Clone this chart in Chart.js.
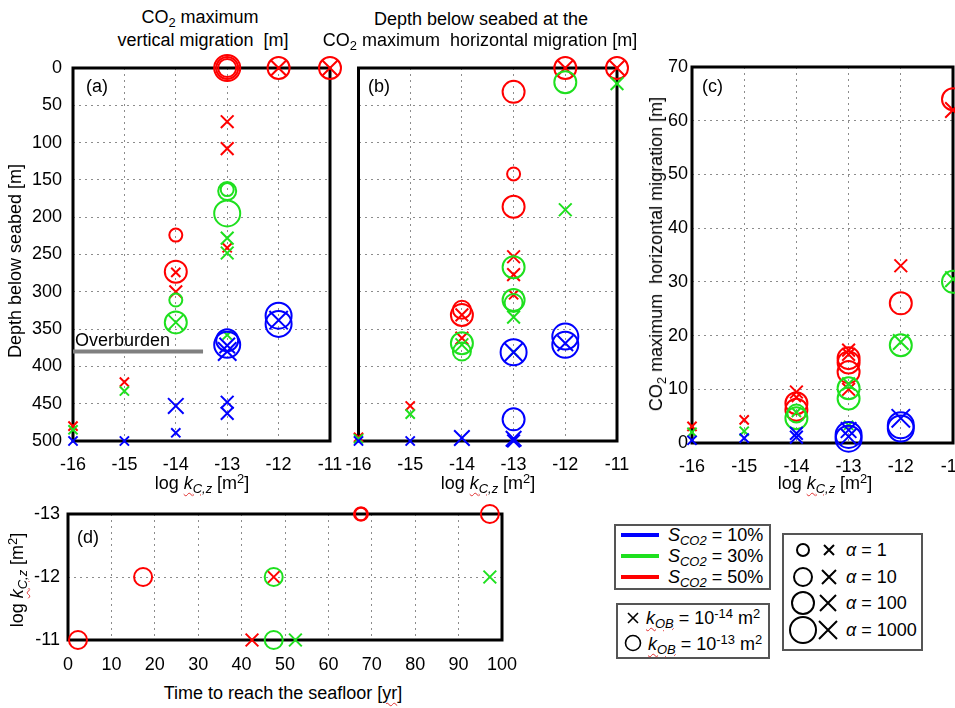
<!DOCTYPE html>
<html>
<head>
<meta charset="utf-8">
<script src="https://cdn.jsdelivr.net/npm/chart.js@4.4.0/dist/chart.umd.min.js"></script>
<style>
body { margin: 0; background: #fff; }
#fig { position: relative; width: 955px; height: 708px; overflow: hidden; font-family: "Liberation Sans", Arial, sans-serif; color: #000; }
canvas { position: absolute; }
.t { position: absolute; font-size: 18px; line-height: 1; white-space: nowrap; }
.c { transform: translateX(-50%); }
.r { transform: translate(-50%, -50%) rotate(-90deg); }
sub { font-size: 0.72em; vertical-align: -0.3em; line-height: 0; }
sup { font-size: 0.72em; vertical-align: 0.5em; line-height: 0; }
.sq { text-decoration: underline wavy #e03030; text-decoration-thickness: 1px; text-underline-offset: 3px; }
.box { position: absolute; border: 2px solid #555; background: #fff; box-sizing: border-box; }
.box svg { position: absolute; left: 0; top: 0; }
.sw { position: absolute; height: 4px; width: 38px; left: 5px; }
</style>
</head>
<body>
<div id="fig">
  <canvas id="ca" width="345" height="421" style="left:0;top:50px"></canvas>
  <canvas id="cb" width="300" height="421" style="left:340px;top:50px"></canvas>
  <canvas id="cc" width="315" height="423" style="left:640px;top:50px"></canvas>
  <canvas id="cd" width="530" height="175" style="left:0;top:500px"></canvas>

  <div class="t c" style="left:200px;top:8px">CO<sub>2</sub> maximum</div>
  <div class="t c" style="left:203px;top:31px">vertical migration&nbsp; [m]</div>
  <div class="t c" style="left:481px;top:10px">Depth below seabed at the</div>
  <div class="t c" style="left:480px;top:31px">CO<sub>2</sub> maximum&nbsp; horizontal migration [m]</div>

  <div class="t r" style="left:15px;top:261px">Depth below seabed [m]</div>
  <div class="t r" style="left:656px;top:254px">CO<sub>2</sub> maximum&nbsp; horizontal migration [m]</div>
  <div class="t r" style="left:17px;top:580px">log <i class="sq">k<sub>C,z</sub></i> [m<sup>2</sup>]</div>

  <div class="t c" style="left:202px;top:474px">log <i class="sq">k<sub>C,z</sub></i> [m<sup>2</sup>]</div>
  <div class="t c" style="left:488px;top:474px">log <i class="sq">k<sub>C,z</sub></i> [m<sup>2</sup>]</div>
  <div class="t c" style="left:825px;top:474px">log <i class="sq">k<sub>C,z</sub></i> [m<sup>2</sup>]</div>
  <div class="t c" style="left:283px;top:684px">Time to reach the seafloor [<span class="sq">yr</span>]</div>

  <div class="t" style="left:86px;top:77px">(a)</div>
  <div class="t" style="left:368px;top:77px">(b)</div>
  <div class="t" style="left:702px;top:77px">(c)</div>
  <div class="t" style="left:77px;top:528px">(d)</div>
  <div class="t" style="left:75px;top:331px">Overburden</div>

  <div class="box" style="left:614px;top:524px;width:157px;height:66px">
    <div class="sw" style="top:7px;background:#0000ff"></div>
    <div class="sw" style="top:28px;background:#1ee01e"></div>
    <div class="sw" style="top:49px;background:#ff0000"></div>
    <div class="t" style="left:52px;top:0px"><i>S<sub>CO2</sub></i> = 10%</div>
    <div class="t" style="left:52px;top:21px"><i>S<sub>CO2</sub></i> = 30%</div>
    <div class="t" style="left:52px;top:42px"><i>S<sub>CO2</sub></i> = 50%</div>
  </div>

  <div class="box" style="left:616px;top:603px;width:154px;height:56px">
    <svg width="30" height="52">
      <path d="M10 8 L20 18 M20 8 L10 18" stroke="#000" stroke-width="1.6" fill="none"/>
      <circle cx="15" cy="38" r="7.5" stroke="#000" stroke-width="1.6" fill="none"/>
    </svg>
    <div class="t" style="left:28px;top:4px"><i class="sq">k<sub>OB</sub></i> = 10<sup>-14</sup> m<sup>2</sup></div>
    <div class="t" style="left:30px;top:30px"><i class="sq">k<sub>OB</sub></i> = 10<sup>-13</sup> m<sup>2</sup></div>
  </div>

  <div class="box" style="left:782px;top:533px;width:141px;height:118px">
    <svg width="62" height="114">
      <g stroke="#000" stroke-width="2" fill="none">
        <circle cx="19" cy="15" r="6"/>
        <path d="M40 10 L50 20 M50 10 L40 20"/>
        <circle cx="19" cy="42" r="9"/>
        <path d="M38 35 L52 49 M52 35 L38 49"/>
        <circle cx="19" cy="68" r="11"/>
        <path d="M36 60 L52 76 M52 60 L36 76"/>
        <circle cx="19" cy="95" r="13"/>
        <path d="M35 86 L53 104 M53 86 L35 104"/>
      </g>
    </svg>
    <div class="t" style="left:62px;top:6px"><i>α</i> = 1</div>
    <div class="t" style="left:62px;top:33px"><i>α</i> = 10</div>
    <div class="t" style="left:62px;top:59px"><i>α</i> = 100</div>
    <div class="t" style="left:62px;top:86px"><i>α</i> = 1000</div>
  </div>
</div>

<script>
"use strict";

// points are [log kCz, value, alpha]; circles: kOB = 1e-13, crosses: kOB = 1e-14
// (a) depth of max vertical migration [m]
const aBlueO  = [[-13, 365, 100], [-13, 371, 1000], [-12, 332, 1000], [-12, 343, 1000]];
const aBlueX  = [[-16, 500, 1], [-15, 500, 1], [-14, 453, 100], [-14, 489, 1], [-13, 448, 10], [-13, 463, 10],
                 [-13, 372, 100], [-13, 380, 1000], [-12, 338, 1000]];
const aGreenO = [[-14, 311, 1], [-14, 341, 100], [-13, 163, 1], [-13, 165, 10], [-13, 195, 1000]];
const aGreenX = [[-16, 485, 1], [-15, 433, 1], [-14, 341, 100], [-13, 228, 10], [-13, 248, 10], [-13, 358, 1]];
const aRedO   = [[-14, 224, 1], [-14, 273, 100], [-13, 0, 10], [-13, 0, 100], [-13, 0, 1000], [-12, 0, 100], [-11, 0, 100]];
const aRedX   = [[-16, 480, 1], [-15, 421, 1], [-14, 274, 1], [-14, 300, 10], [-13, 72, 10], [-13, 108, 10],
                 [-13, 241, 1], [-12, 0, 100], [-11, 0, 100]];
const overburdenDepth = 380;
const overburdenK = [-16, -13.47];

// (b) depth at max horizontal migration [m]
const bBlueO  = [[-13, 381, 1000], [-13, 471, 100], [-12, 360, 1000], [-12, 371, 1000]];
const bBlueX  = [[-16, 500, 1], [-15, 500, 1], [-14, 496, 100], [-13, 497, 100], [-13, 500, 10], [-13, 381, 1000], [-12, 369, 100]];
const bGreenO = [[-14, 369, 100], [-14, 380, 10], [-13, 267, 100], [-13, 311, 100], [-13, 315, 10], [-12, 19, 100]];
const bGreenX = [[-16, 497, 1], [-15, 464, 1], [-14, 371, 10], [-13, 334, 10], [-13, 381, 1], [-12, 190, 10], [-11, 21, 10]];
const bRedO   = [[-14, 324, 10], [-14, 331, 100], [-13, 32, 100], [-13, 142, 1], [-13, 186, 100], [-12, 0, 100], [-11, 0, 100]];
const bRedX   = [[-16, 495, 1], [-15, 453, 1], [-14, 331, 10], [-14, 362, 10], [-13, 253, 10], [-13, 277, 10],
                 [-13, 304, 1], [-12, 0, 100], [-11, 0, 100]];

// (c) max horizontal migration [m]
const cBlueO  = [[-13, 1.5, 1000], [-13, 0.8, 1000], [-12, 3.3, 1000], [-12, 2.7, 1000]];
const cBlueX  = [[-16, 0.5, 1], [-15, 0.9, 1], [-14, 1.8, 10], [-14, 1.1, 10], [-13, 2.4, 100], [-13, 1.2, 100], [-12, 4.6, 1000]];
const cGreenO = [[-14, 4.6, 100], [-14, 5.5, 10], [-13, 10.2, 100], [-13, 8.3, 100], [-12, 18.2, 100], [-11, 30, 100]];
const cGreenX = [[-16, 2, 1], [-15, 2.2, 1], [-14, 5.7, 1], [-13, 11, 10], [-13, 3.3, 1], [-12, 18.8, 100], [-11, 30.5, 100]];
const cRedO   = [[-14, 7.4, 100], [-14, 6.2, 100], [-13, 15.8, 100], [-13, 15, 100], [-13, 13.2, 100], [-12, 26, 100], [-11, 64, 100]];
const cRedX   = [[-16, 3.1, 1], [-15, 4.3, 1], [-14, 9.5, 10], [-14, 8.5, 1], [-13, 17.3, 10], [-13, 16.5, 10],
                 [-13, 10, 10], [-12, 33, 10], [-11, 62, 100]];

// (d) points are [time to seafloor (yr), log kCz, alpha]
const dRedO   = [[2.3, -11, 10], [17.3, -12, 10], [67.4, -13, 1], [67.6, -13, 1], [97.2, -13, 10]];
const dRedX   = [[42.4, -11, 10], [47.4, -12, 10]];
const dGreenO = [[47.4, -12, 10], [47.4, -11, 10]];
const dGreenX = [[52.4, -11, 10], [97.2, -12, 10]];

const kTicks = [-16, -11, 1];
const depthTicks = [0, 500, 50];
const horizTicks = [0, 70, 10];
const timeTicks = [0, 100, 10];
const dKTicks = [-13, -11, 1];

const FONT = '"Liberation Sans", Arial, sans-serif';
const ALPHA_R = { 1: 6.5, 10: 9, 100: 11, 1000: 13 };
const BLUE = "#0000ff", GREEN = "#1ee01e", RED = "#ff0000";

function markers(list, color, style) {
    return {
        data: list.map(p => ({ x: p[0], y: p[1], a: p[2] })),
        pointStyle: style,
        borderColor: color,
        pointBorderColor: color,
        backgroundColor: "rgba(0,0,0,0)",
        pointBackgroundColor: "rgba(0,0,0,0)",
        pointBorderWidth: 2,
        pointRadius: c => (c.raw ? ALPHA_R[c.raw.a] : 6),
        showLine: false,
        clip: false
    };
}

function six(bo, bx, go, gx, ro, rx) {
    return [
        markers(bo, BLUE, "circle"), markers(bx, BLUE, "crossRot"),
        markers(go, GREEN, "circle"), markers(gx, GREEN, "crossRot"),
        markers(ro, RED, "circle"), markers(rx, RED, "crossRot")
    ];
}

function axis(t, size, horizontal, pad, extra) {
    return Object.assign({
        type: "linear",
        min: t[0],
        max: t[1],
        ticks: { stepSize: t[2], color: "#000", padding: pad, font: { family: FONT, size: 18 } },
        grid: { color: "#8c8c8c", lineWidth: 1, drawTicks: false },
        border: { display: false, dash: [2, 4] },
        afterFit: s => {
            if (horizontal) { s.height = size; } else { s.width = size; }
            s.paddingLeft = s.paddingRight = s.paddingTop = s.paddingBottom = 0;
        }
    }, extra || {});
}

// thick black box round each plot area
const framePlugin = {
    id: "frame",
    beforeDatasetsDraw(chart) {
        const { ctx, chartArea: a } = chart;
        ctx.save();
        ctx.lineWidth = 3;
        ctx.strokeStyle = "#000";
        ctx.strokeRect(a.left, a.top, a.right - a.left, a.bottom - a.top);
        ctx.restore();
    }
};

function panel(id, datasets, x, y, padding) {
    return new Chart(document.getElementById(id), {
        type: "scatter",
        data: { datasets: datasets },
        options: {
            responsive: false,
            animation: false,
            events: [],
            layout: { padding: padding, autoPadding: false },
            plugins: { legend: { display: false }, tooltip: { enabled: false } },
            scales: { x: x, y: y }
        },
        plugins: [framePlugin]
    });
}

const overburden = {
    data: overburdenK.map(k => ({ x: k, y: overburdenDepth })),
    showLine: true,
    borderColor: "#808080",
    borderWidth: 4,
    pointRadius: 0
};

panel("ca", [overburden].concat(six(aBlueO, aBlueX, aGreenO, aGreenX, aRedO, aRedX)),
      axis(kTicks, 30, true, 13),
      axis(depthTicks, 73, false, 11, { reverse: true }),
      { top: 18, right: 15, left: 0, bottom: 0 });

panel("cb", six(bBlueO, bBlueX, bGreenO, bGreenX, bRedO, bRedX),
      axis(kTicks, 30, true, 13),
      axis(depthTicks, 0, false, 0, { reverse: true, ticks: { display: false, stepSize: 50 } }),
      { top: 18, right: 23, left: 18.5, bottom: 0 });

panel("cc", six(cBlueO, cBlueX, cGreenO, cGreenX, cRedO, cRedX),
      axis(kTicks, 30, true, 13),
      axis(horizTicks, 52, false, 4),
      { top: 17, right: 2, left: 0, bottom: 0 });

panel("cd", [
        markers(dGreenO, GREEN, "circle"), markers(dGreenX, GREEN, "crossRot"),
        markers(dRedO, RED, "circle"), markers(dRedX, RED, "crossRot")
      ],
      axis(timeTicks, 35, true, 14),
      axis(dKTicks, 68, false, 8, { reverse: true }),
      { top: 14, right: 28, left: 0, bottom: 0 });
</script>
</body>
</html>
